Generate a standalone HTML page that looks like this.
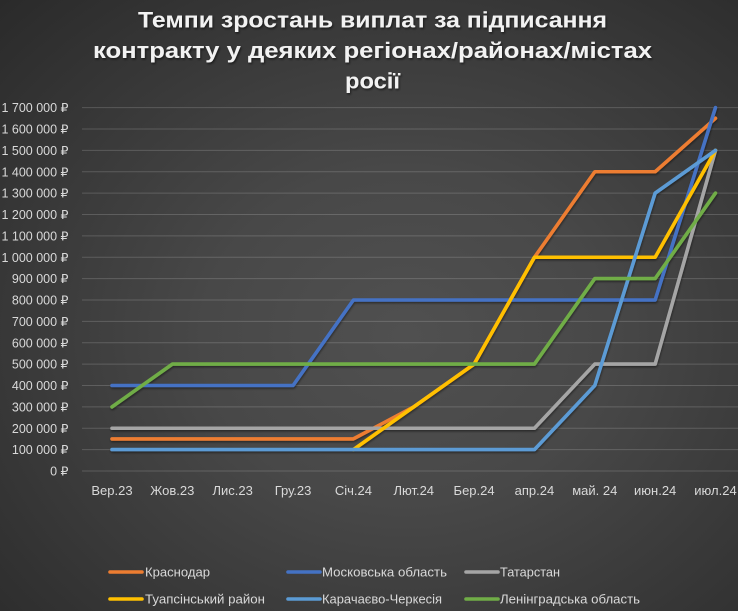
<!DOCTYPE html>
<html>
<head>
<meta charset="utf-8">
<style>
html,body{margin:0;padding:0;}
body{width:738px;height:611px;overflow:hidden;}
.bg{position:absolute;left:0;top:0;width:738px;height:611px;
background:radial-gradient(ellipse farthest-corner at 55% 55%, #505050 0%, #484848 35%, #3a3a3a 65%, #2a2a2a 100%);}
svg{position:absolute;left:0;top:0;}
text{font-family:"Liberation Sans","DejaVu Sans",sans-serif;}
</style>
</head>
<body>
<div class="bg"></div>
<svg width="738" height="611" viewBox="0 0 738 611" xmlns="http://www.w3.org/2000/svg">
<defs>
<filter id="ts" x="-5%" y="-20%" width="110%" height="140%">
<feDropShadow dx="1" dy="1.5" stdDeviation="1" flood-color="#000" flood-opacity="0.55"/>
</filter>
<filter id="ls" x="-5%" y="-5%" width="110%" height="110%">
<feDropShadow dx="0.5" dy="1.5" stdDeviation="1" flood-color="#000" flood-opacity="0.45"/>
</filter>
</defs>

<!-- Title -->
<g fill="#f2f2f2" font-weight="bold" font-size="22" text-anchor="middle" filter="url(#ts)">
<text x="372.5" y="27.5" textLength="469" lengthAdjust="spacingAndGlyphs">Темпи зростань виплат за підписання</text>
<text x="372.5" y="58" textLength="559" lengthAdjust="spacingAndGlyphs">контракту у деяких регіонах/районах/містах</text>
<text x="372.5" y="88.5" textLength="55" lengthAdjust="spacingAndGlyphs">росії</text>
</g>

<!-- Gridlines -->
<g stroke="#ffffff" stroke-opacity="0.17" stroke-width="1">
<line x1="82" x2="738" y1="471" y2="471"/>
<line x1="82" x2="738" y1="449.6" y2="449.6"/>
<line x1="82" x2="738" y1="428.25" y2="428.25"/>
<line x1="82" x2="738" y1="406.9" y2="406.9"/>
<line x1="82" x2="738" y1="385.5" y2="385.5"/>
<line x1="82" x2="738" y1="364.1" y2="364.1"/>
<line x1="82" x2="738" y1="342.75" y2="342.75"/>
<line x1="82" x2="738" y1="321.4" y2="321.4"/>
<line x1="82" x2="738" y1="300" y2="300"/>
<line x1="82" x2="738" y1="278.6" y2="278.6"/>
<line x1="82" x2="738" y1="257.25" y2="257.25"/>
<line x1="82" x2="738" y1="235.9" y2="235.9"/>
<line x1="82" x2="738" y1="214.5" y2="214.5"/>
<line x1="82" x2="738" y1="193.1" y2="193.1"/>
<line x1="82" x2="738" y1="171.75" y2="171.75"/>
<line x1="82" x2="738" y1="150.4" y2="150.4"/>
<line x1="82" x2="738" y1="129" y2="129"/>
<line x1="82" x2="738" y1="107.6" y2="107.6"/>
</g>

<!-- Y labels -->
<g fill="#d9d9d9" font-size="12.5" text-anchor="end">
<text x="68.5" y="475.5">0 ₽</text>
<text x="68.5" y="454.1">100 000 ₽</text>
<text x="68.5" y="432.75">200 000 ₽</text>
<text x="68.5" y="411.4">300 000 ₽</text>
<text x="68.5" y="390">400 000 ₽</text>
<text x="68.5" y="368.6">500 000 ₽</text>
<text x="68.5" y="347.25">600 000 ₽</text>
<text x="68.5" y="325.9">700 000 ₽</text>
<text x="68.5" y="304.5">800 000 ₽</text>
<text x="68.5" y="283.1">900 000 ₽</text>
<text x="68.5" y="261.75">1 000 000 ₽</text>
<text x="68.5" y="240.4">1 100 000 ₽</text>
<text x="68.5" y="219">1 200 000 ₽</text>
<text x="68.5" y="197.6">1 300 000 ₽</text>
<text x="68.5" y="176.25">1 400 000 ₽</text>
<text x="68.5" y="154.9">1 500 000 ₽</text>
<text x="68.5" y="133.5">1 600 000 ₽</text>
<text x="68.5" y="112.1">1 700 000 ₽</text>
</g>

<!-- X labels -->
<g fill="#d9d9d9" font-size="13" text-anchor="middle">
<text x="112" y="495">Вер.23</text>
<text x="172.35" y="495">Жов.23</text>
<text x="232.7" y="495">Лис.23</text>
<text x="293.05" y="495">Гру.23</text>
<text x="353.4" y="495">Січ.24</text>
<text x="413.75" y="495">Лют.24</text>
<text x="474.1" y="495">Бер.24</text>
<text x="534.45" y="495">апр.24</text>
<text x="594.8" y="495">май. 24</text>
<text x="655.15" y="495">июн.24</text>
<text x="715.5" y="495">июл.24</text>
</g>

<!-- Series -->
<g fill="none" stroke-width="3.6" stroke-linejoin="round" stroke-linecap="round" filter="url(#ls)">
<polyline stroke="#ED7D31" points="112,438.9 172.35,438.9 232.7,438.9 293.05,438.9 353.4,438.9 413.75,406.9 474.1,364.1 534.45,257.25 594.8,171.75 655.15,171.75 715.5,118.3"/>
<polyline stroke="#4472C4" points="112,385.5 172.35,385.5 232.7,385.5 293.05,385.5 353.4,300 413.75,300 474.1,300 534.45,300 594.8,300 655.15,300 715.5,107.6"/>
<polyline stroke="#A5A5A5" points="112,428.25 172.35,428.25 232.7,428.25 293.05,428.25 353.4,428.25 413.75,428.25 474.1,428.25 534.45,428.25 594.8,364.1 655.15,364.1 715.5,150.4"/>
<polyline stroke="#FFC000" points="353.4,449.6 413.75,406.9 474.1,364.1 534.45,257.25 594.8,257.25 655.15,257.25 715.5,150.4"/>
<polyline stroke="#5B9BD5" points="112,449.6 172.35,449.6 232.7,449.6 293.05,449.6 353.4,449.6 413.75,449.6 474.1,449.6 534.45,449.6 594.8,385.5 655.15,193.1 715.5,150.4"/>
<polyline stroke="#70AD47" points="112,406.9 172.35,364.1 232.7,364.1 293.05,364.1 353.4,364.1 413.75,364.1 474.1,364.1 534.45,364.1 594.8,278.6 655.15,278.6 715.5,193.1"/>
</g>

<!-- Legend -->
<g stroke-width="3.6" stroke-linecap="round">
<line x1="110" x2="142" y1="572" y2="572" stroke="#ED7D31"/>
<line x1="288" x2="320" y1="572" y2="572" stroke="#4472C4"/>
<line x1="466" x2="498" y1="572" y2="572" stroke="#A5A5A5"/>
<line x1="110" x2="142" y1="599" y2="599" stroke="#FFC000"/>
<line x1="288" x2="320" y1="599" y2="599" stroke="#5B9BD5"/>
<line x1="466" x2="498" y1="599" y2="599" stroke="#70AD47"/>
</g>
<g fill="#d9d9d9" font-size="13">
<text x="145" y="576.5" textLength="65" lengthAdjust="spacingAndGlyphs">Краснодар</text>
<text x="322" y="576.5" textLength="125" lengthAdjust="spacingAndGlyphs">Московська область</text>
<text x="500" y="576.5" textLength="60" lengthAdjust="spacingAndGlyphs">Татарстан</text>
<text x="145" y="603.5" textLength="120" lengthAdjust="spacingAndGlyphs">Туапсінський район</text>
<text x="322" y="603.5" textLength="120" lengthAdjust="spacingAndGlyphs">Карачаєво-Черкесія</text>
<text x="500" y="603.5" textLength="140" lengthAdjust="spacingAndGlyphs">Ленінградська область</text>
</g>
</svg>
</body>
</html>
